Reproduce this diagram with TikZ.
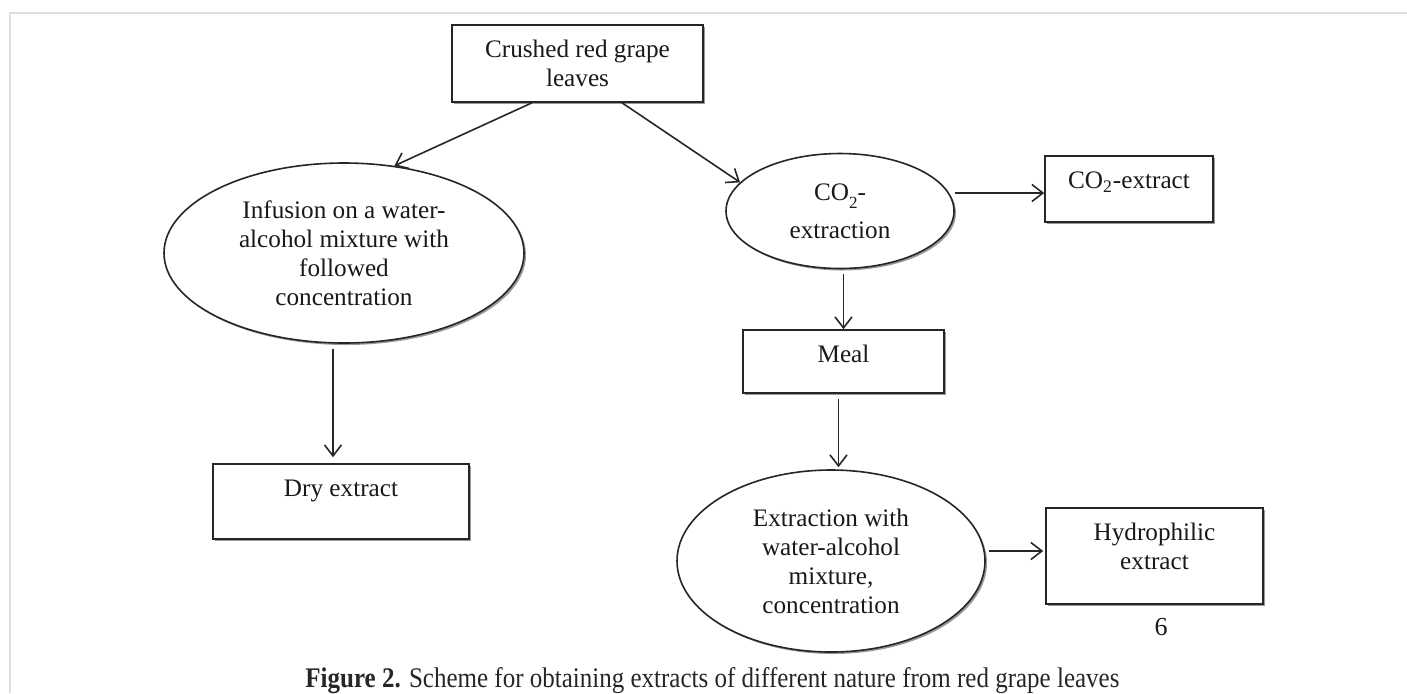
\documentclass[tikz,border=0pt]{standalone}
\usepackage{fontspec}
\setmainfont{Liberation Serif}
\usepackage{graphicx}
\usetikzlibrary{shapes.geometric,arrows.meta,shadows,calc}
\newcommand{\boxtext}[3]{\parbox[c][#2][t]{#1}{\centering\rule{0pt}{16.25pt}#3}}
\begin{document}
\begin{tikzpicture}[x=0.5pt,y=-0.5pt,
  line/.style={draw=black!85, line width=0.8pt},
  sh/.style={drop shadow={shadow xshift=1pt,shadow yshift=-1pt,fill=black!40,opacity=1}},
  box/.style={line, sh, fill=white, rectangle, inner sep=0pt,
    font=\fontsize{12.6}{14.5}\selectfont, text=black!90},
  ell/.style={line, sh, fill=white, ellipse, inner sep=0pt, align=center,
    font=\fontsize{12.6}{14.5}\selectfont, text=black!90},
  arr/.style={line, -{Straight Barb[length=5.5pt,width=8.5pt]}},
]
\useasboundingbox (0,0) rectangle (1407,693);
\draw[black!13, line width=1pt] (10,693) -- (10,13) -- (1407,13);

\node[box] (top) at (577.5,63.5) {\boxtext{125.5pt}{38.5pt}{Crushed red grape\\leaves}};
\node[ell, minimum width=180pt, minimum height=90pt] (inf) at (344,253)
  {Infusion on a water-\\alcohol mixture with\\followed\\concentration};
\node[ell, minimum width=114pt, minimum height=57.5pt] (co2) at (840,211)
  {CO\raisebox{-0.75ex}{\fontsize{8.5}{10}\selectfont 2}-\\[4.5pt]extraction};
\node[box] (co2ex) at (1129,189) {\boxtext{84pt}{33pt}{CO\textsubscript{2}-extract}};
\node[box] (meal) at (843.5,361.5) {\boxtext{100.5pt}{31.5pt}{Meal}};
\node[box] (dry) at (341,501.5) {\boxtext{128pt}{37.5pt}{Dry extract}};
\node[ell, minimum width=154pt, minimum height=91pt] (ell2) at (831,561)
  {Extraction with\\water-alcohol\\mixture,\\concentration};
\node[box] (hyd) at (1154.5,556) {\boxtext{108.5pt}{48pt}{Hydrophilic\\extract}};

\node[font=\fontsize{13}{15}\selectfont, text=black!90, inner sep=0pt] (pg) at (1161,627) {6};

\coordinate (a1) at ($(top.south)+(-45.5,0)$);
\draw[arr] (a1) -- (inf.60);
\coordinate (a2) at ($(top.south)+(44.5,0)$);
\draw[arr] (a2) -- (co2.164);
\coordinate (a3) at ($(co2.east)+(0,-18)$);
\draw[arr] (a3) -- (a3 -| co2ex.west);
\coordinate (a4) at ($(co2.south -| meal.north)+(0,5)$);
\draw[arr] (a4) -- (meal.north);
\coordinate (a5) at ($(meal.south)+(-5,5)$);
\draw[arr, shorten >=1pt] (a5) -- (a5 |- ell2.north);
\coordinate (a6) at ($(inf.south)+(-11,5)$);
\draw[arr, shorten >=3pt] (a6) -- (a6 |- dry.north);
\coordinate (a7) at ($(ell2.east)+(3,-10)$);
\draw[arr, shorten >=1pt] (a7) -- (a7 -| hyd.west);

\node[anchor=base west, inner sep=0pt, text=black!85] (cap) at (305,687)
  {\resizebox{407pt}{10pt}{\textbf{Figure 2.} Scheme for obtaining extracts of different nature from red grape leaves}};
\end{tikzpicture}
\end{document}
